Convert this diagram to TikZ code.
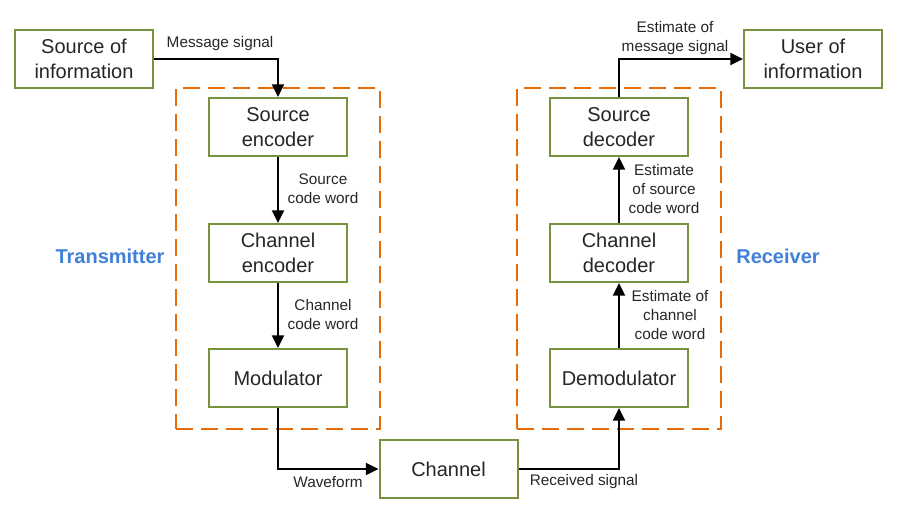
\documentclass[tikz,border=0pt]{standalone}
\usepackage{fontspec}
\setmainfont{Liberation Sans}
\usetikzlibrary{arrows.meta}
\definecolor{boxgreen}{RGB}{118,146,60}
\definecolor{grouporange}{RGB}{228,108,10}
\definecolor{groupblue}{RGB}{64,128,216}
\begin{document}
\begin{tikzpicture}[
    x=0.75pt, y=-0.75pt,
    block/.style={draw=boxgreen, line width=1.5pt, fill=white, minimum width=103.5pt,
        minimum height=43.5pt, align=center, font=\fontsize{15}{18.5}\selectfont, text=black!85},
    groupbox/.style={draw=grouporange, line width=1.5pt, dash pattern=on 12.75pt off 6pt,
        minimum width=153pt, minimum height=255.75pt, inner sep=0pt},
    grouplabel/.style={font=\fontsize{15}{18}\selectfont\bfseries, text=groupblue},
    sig/.style={align=center, font=\fontsize{11.5}{14.25}\selectfont, text=black!85, inner sep=0pt},
    link/.style={line width=1.4pt, -{Triangle[length=9.5pt,width=9pt]}}
]
\useasboundingbox (0,0) rectangle (902,508);
% groups
\node[groupbox] (txgroup) at (278,258.5) {};
\node[groupbox] (rxgroup) at (619,258.5) {};
\node[grouplabel] (txlabel) at (110,256) {Transmitter};
\node[grouplabel] (rxlabel) at (778,256) {Receiver};
% blocks
\node[block] (srcinfo) at (84,59) {Source of\\information};
\node[block] (srcenc) at (278,127) {Source\\encoder};
\node[block] (chanenc) at (278,253) {Channel\\encoder};
\node[block] (mod) at (278,378) {Modulator};
\node[block] (chan) at (448.5,469) {Channel};
\node[block] (demod) at (619,378) {Demodulator};
\node[block] (chandec) at (619,253) {Channel\\decoder};
\node[block] (srcdec) at (619,127) {Source\\decoder};
\node[block] (userinfo) at (813,59) {User of\\information};
% signals
\draw[link] (srcinfo.east) -| (srcenc.north);
\draw[link] (srcenc) -- (chanenc);
\draw[link] (chanenc) -- (mod);
\draw[link] (mod.south) |- (chan.west);
\draw[link] (chan.east) -| (demod.south);
\draw[link] (demod) -- (chandec);
\draw[link] (chandec) -- (srcdec);
\draw[link] (srcdec.north) |- (userinfo.west);
\node[sig] (msglabel) at (220,44) {Message signal};
\node[sig] (srccwlabel) at (323,189) {Source\\code word};
\node[sig] (chancwlabel) at (323,315) {Channel\\code word};
\node[sig] (wavelabel) at (328,482) {Waveform};
\node[sig] (rxsiglabel) at (584,482) {Received signal};
\node[sig] (estchanlabel) at (670,315) {Estimate of\\channel\\code word};
\node[sig] (estsrclabel) at (664,189) {Estimate\\of source\\code word};
\node[sig] (estmsglabel) at (675,38) {Estimate of\\message signal};
\end{tikzpicture}
\end{document}
